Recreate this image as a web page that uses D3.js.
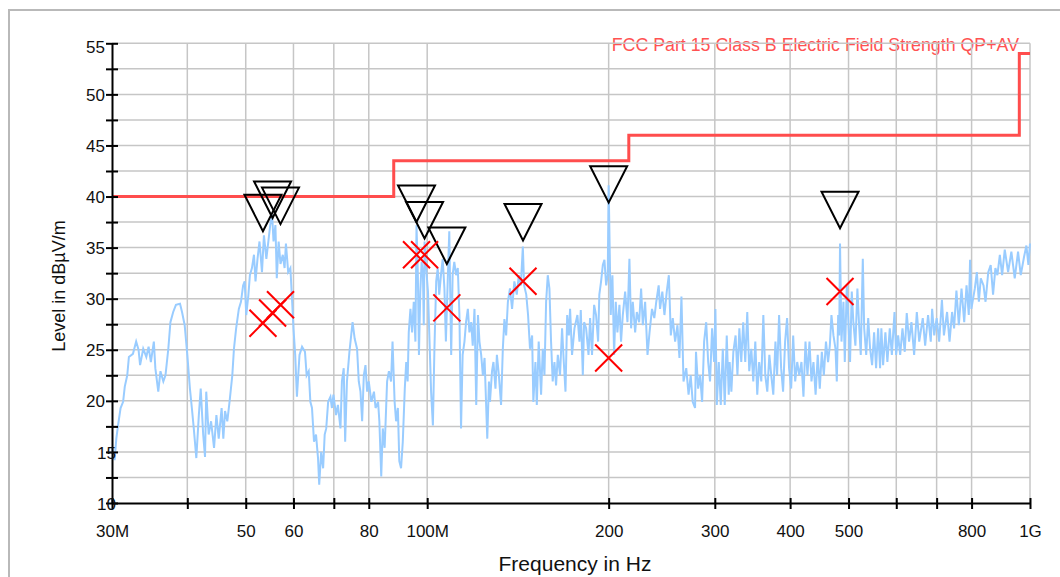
<!DOCTYPE html>
<html>
<head>
<meta charset="utf-8">
<script src="https://cdn.jsdelivr.net/npm/d3@7"></script>
<style>
  body { margin: 0; background: #fff; }
  svg { display: block; }
  text { font-family: "Liberation Sans", Arial, sans-serif; }
</style>
</head>
<body>
<svg></svg>
<script>
// measured trace (peak detector), frequency in MHz / level in dBuV/m
var traceMHz = [
  30.0, 30.3, 30.5, 30.7, 31.0, 31.3, 31.5, 31.8, 32.0, 32.5, 32.9, 33.2, 33.4, 33.8, 34.2, 34.5,
  34.8, 35.2, 35.4, 35.8, 36.1, 36.5, 36.8, 37.2, 37.5, 37.9, 38.3, 38.9, 39.2, 39.6, 40.0, 40.4,
  40.7, 41.0, 41.4, 41.8, 42.1, 42.5, 42.8, 43.0, 43.4, 43.8, 44.3, 44.7, 45.1, 45.6, 45.9, 46.2,
  46.6, 47.0, 47.5, 47.8, 48.2, 48.7, 49.1, 49.5, 49.8, 50.1, 50.5, 50.8, 51.2, 51.6, 51.9, 52.3,
  52.7, 53.2, 53.6, 54.1, 54.9, 55.3, 55.6, 56.0, 56.3, 56.7, 57.1, 57.6, 58.0, 58.3, 58.8, 59.3,
  59.7, 60.0, 60.4, 60.8, 61.4, 62.0, 62.7, 63.1, 63.6, 64.0, 64.4, 64.9, 65.4, 65.9, 66.2, 66.7,
  67.2, 67.6, 68.0, 68.5, 69.1, 69.5, 69.9, 70.6, 71.1, 71.8, 72.2, 72.7, 73.1, 73.6, 74.3, 74.8,
  75.2, 75.8, 76.5, 77.0, 77.5, 78.0, 78.5, 79.0, 79.5, 80.0, 80.8, 81.6, 82.1, 82.9, 83.3, 83.9,
  84.4, 85.0, 85.8, 86.4, 87.1, 87.6, 88.3, 88.8, 89.4, 89.9, 90.5, 91.1, 91.8, 92.3, 92.8, 93.2,
  93.8, 94.4, 95.0, 95.6, 96.0, 96.5, 96.9, 97.4, 97.9, 98.4, 98.7, 99.0, 99.6, 100.3, 100.9, 101.5,
  102.2, 102.8, 103.5, 104.1, 104.7, 105.4, 106.1, 106.8, 107.4, 108.1, 108.8, 109.6, 110.2, 110.9, 111.7, 112.4,
  113.1, 113.8, 114.5, 115.3, 116.0, 116.8, 117.5, 118.3, 119.0, 119.8, 120.6, 121.4, 122.1, 122.9, 123.7, 124.5,
  125.3, 125.8, 126.6, 127.1, 128.1, 128.8, 129.8, 130.5, 131.5, 132.6, 133.5, 134.3, 135.2, 136.1, 137.2, 138.3,
  139.5, 140.8, 141.9, 143.0, 144.1, 144.8, 146.0, 147.0, 148.1, 149.3, 150.0, 151.2, 152.0, 153.1, 154.5, 155.5,
  156.5, 157.5, 158.5, 159.5, 160.5, 161.5, 162.6, 163.6, 164.7, 166.1, 167.4, 168.5, 169.6, 170.7, 171.8, 172.6,
  173.9, 175.5, 177.5, 178.9, 179.8, 181.2, 182.1, 183.5, 185.2, 186.3, 187.7, 189.2, 190.6, 192.1, 193.0, 194.3,
  195.6, 196.8, 198.1, 199.3, 200.0, 201.6, 202.9, 204.2, 205.5, 206.8, 208.4, 209.7, 211.1, 213.0, 214.9, 216.5,
  217.9, 219.3, 221.3, 222.7, 224.7, 226.4, 227.9, 229.9, 232.0, 233.8, 236.0, 238.1, 239.9, 242.1, 243.4, 245.5,
  247.5, 249.7, 251.7, 253.6, 255.5, 257.8, 260.1, 262.1, 264.1, 266.2, 269.0, 271.4, 273.6, 275.7, 278.2, 279.2,
  281.5, 283.6, 285.8, 288.0, 290.3, 292.5, 294.6, 296.9, 299.2, 300.7, 302.3, 304.6, 306.9, 309.3, 311.6, 314.0,
  316.4, 317.5, 319.6, 322.0, 324.8, 327.1, 329.5, 331.9, 334.4, 337.0, 339.6, 342.2, 344.9, 347.5, 350.2, 352.8,
  355.4, 358.3, 361.1, 363.8, 366.6, 369.5, 372.2, 375.1, 378.2, 380.6, 383.5, 386.5, 389.4, 392.4, 395.4, 398.4,
  401.6, 404.7, 407.8, 411.0, 414.2, 417.7, 420.9, 424.2, 427.4, 430.7, 434.0, 437.3, 440.9, 444.5, 448.0, 451.5,
  455.0, 458.7, 462.4, 465.5, 468.4, 472.0, 475.7, 478.1, 480.6, 482.5, 484.0, 486.7, 490.4, 492.9, 496.7, 499.8,
  502.9, 506.2, 509.3, 513.3, 517.2, 520.6, 523.9, 528.0, 530.8, 534.9, 539.0, 542.9, 547.1, 551.3, 555.5, 559.8,
  564.0, 566.8, 570.6, 575.6, 580.0, 585.3, 590.0, 596.0, 599.7, 604.3, 609.0, 614.4, 619.8, 624.5, 630.1, 635.8,
  642.4, 649.0, 655.0, 663.9, 670.0, 677.5, 684.5, 688.1, 693.6, 700.1, 706.8, 714.3, 719.8, 728.5, 735.4, 742.6,
  748.3, 755.0, 762.0, 769.8, 777.8, 784.7, 791.5, 795.4, 799.4, 810.0, 816.3, 822.6, 828.6, 837.3, 843.8, 852.6,
  860.6, 868.4, 876.2, 882.9, 891.2, 899.0, 908.1, 919.8, 931.3, 943.3, 955.4, 965.3, 977.6, 986.3, 993.9, 1000
];
var traceDb = [
  15.5, 14.2, 16.3, 17.6, 19.3, 19.9, 21.4, 22.5, 24.3, 24.6, 25.8, 25.0, 23.5, 25.1, 24.3, 25.3,
  23.8, 25.8, 23.2, 20.9, 22.9, 21.9, 22.5, 25.1, 27.7, 28.7, 29.4, 29.5, 28.7, 27.4, 24.5, 21.2,
  19.3, 17.3, 14.4, 18.6, 21.2, 16.7, 14.5, 20.9, 16.7, 18.0, 15.4, 18.6, 16.3, 19.3, 16.3, 19.0,
  18.0, 19.9, 22.5, 25.1, 27.1, 29.0, 29.7, 31.3, 31.7, 28.4, 30.3, 32.3, 33.0, 34.3, 31.7, 33.9,
  35.6, 32.6, 36.2, 33.9, 37.2, 38.2, 35.6, 37.2, 32.0, 35.6, 33.4, 34.3, 33.0, 35.4, 32.6, 33.0,
  29.7, 27.1, 24.5, 20.4, 24.5, 25.3, 24.8, 22.5, 22.9, 19.9, 19.3, 16.0, 16.7, 14.4, 11.8, 15.0,
  13.4, 16.7, 17.3, 19.9, 20.4, 19.3, 20.6, 18.6, 19.6, 17.3, 21.9, 23.2, 16.0, 21.9, 24.8, 26.4,
  27.7, 26.1, 25.1, 21.9, 20.9, 18.0, 22.5, 23.5, 20.9, 21.9, 19.9, 20.9, 19.3, 19.9, 18.0, 12.6,
  17.3, 15.4, 21.9, 22.9, 21.9, 25.8, 19.9, 18.0, 19.3, 14.1, 13.4, 16.0, 21.2, 23.8, 21.9, 26.7,
  29.0, 26.7, 29.7, 25.8, 37.2, 32.3, 24.5, 30.7, 33.6, 32.3, 27.4, 35.6, 33.0, 30.7, 25.8, 20.9,
  17.6, 25.1, 31.7, 33.0, 30.4, 32.3, 33.9, 31.0, 25.8, 31.3, 36.6, 24.5, 32.3, 33.6, 32.3, 33.0,
  28.4, 17.3, 24.5, 25.8, 27.7, 29.0, 26.7, 27.7, 25.4, 29.0, 19.6, 28.4, 25.8, 24.5, 22.5, 24.2,
  19.3, 16.3, 21.9, 19.9, 22.9, 23.8, 21.2, 24.5, 22.5, 19.6, 25.1, 28.0, 26.4, 29.7, 31.0, 29.0,
  31.7, 30.4, 32.3, 31.3, 35.1, 31.3, 30.4, 28.4, 25.1, 26.4, 19.9, 23.8, 19.6, 25.8, 20.6, 25.1,
  22.5, 29.7, 32.3, 31.0, 25.8, 21.9, 23.8, 21.5, 24.5, 22.5, 27.1, 23.8, 20.9, 28.4, 26.4, 29.0,
  24.5, 27.1, 28.4, 25.8, 28.9, 22.5, 27.7, 27.1, 24.5, 28.1, 24.5, 29.4, 28.4, 25.8, 30.4, 31.7,
  33.3, 33.8, 31.3, 32.3, 41.1, 28.4, 32.3, 24.5, 29.7, 26.7, 29.4, 25.8, 28.4, 30.7, 27.7, 33.9,
  27.1, 29.7, 26.7, 28.7, 27.7, 31.0, 27.4, 29.7, 24.5, 26.7, 29.0, 28.1, 29.7, 31.3, 29.0, 30.7,
  28.4, 30.7, 32.3, 26.4, 28.1, 25.8, 27.4, 24.2, 30.2, 21.9, 23.2, 20.6, 22.5, 19.9, 19.3, 24.8,
  21.2, 22.5, 19.9, 25.8, 27.7, 23.8, 21.9, 27.1, 23.8, 29.0, 19.6, 23.8, 19.6, 25.1, 19.6, 26.4,
  20.6, 23.8, 20.9, 24.8, 26.4, 22.5, 27.1, 23.8, 27.7, 23.8, 28.7, 22.9, 25.1, 21.9, 25.8, 20.6,
  23.8, 21.9, 28.4, 22.5, 20.9, 24.5, 22.5, 20.6, 25.8, 22.5, 28.4, 23.2, 20.9, 25.8, 28.1, 23.2,
  21.2, 26.4, 21.9, 23.8, 22.5, 23.8, 20.4, 25.8, 22.5, 25.8, 21.9, 23.8, 20.6, 24.5, 21.2, 24.8,
  22.5, 25.8, 23.8, 25.4, 28.4, 26.4, 25.1, 21.9, 28.4, 26.4, 35.4, 25.8, 29.7, 23.8, 31.3, 27.7,
  23.8, 30.7, 27.7, 25.4, 31.0, 27.4, 24.5, 33.9, 27.1, 24.5, 28.1, 25.1, 23.5, 26.7, 23.2, 27.1,
  23.2, 27.1, 23.5, 26.7, 23.8, 27.1, 24.5, 28.7, 24.5, 26.4, 24.5, 27.1, 24.8, 28.6, 25.8, 27.7,
  24.5, 28.7, 25.8, 28.1, 25.4, 28.4, 25.8, 29.0, 26.4, 28.1, 25.8, 29.9, 26.4, 28.7, 25.8, 28.7,
  27.1, 30.8, 27.4, 31.0, 27.7, 31.3, 28.4, 33.8, 29.0, 31.0, 32.6, 29.7, 32.0, 31.3, 29.7, 32.6,
  33.3, 30.4, 33.0, 32.3, 34.3, 32.3, 34.8, 32.6, 34.6, 32.0, 34.6, 32.3, 34.1, 35.2, 33.3, 35.4
];

// FCC Part 15 Class B limit (steps)
var limitMHz = [30, 88, 88, 216, 216, 960, 960, 1000];
var limitDb = [40, 40, 43.5, 43.5, 46, 46, 54, 54];

// final measurement: quasi-peak (triangles) and average (crosses)
var qpMHz = [53.4, 55.4, 57.1, 96.0, 99.0, 107.8, 144.2, 200.0, 484.0];
var qpDb = [36.6, 37.9, 37.3, 37.5, 35.9, 33.4, 35.7, 39.4, 36.9];
var avMHz = [53.4, 55.4, 57.1, 96.0, 99.0, 107.8, 144.2, 200.0, 484.0];
var avDb = [27.6, 28.6, 29.4, 34.3, 34.3, 29.1, 31.7, 24.2, 30.7];

var xTickValues = [30, 40, 50, 60, 70, 80, 100, 200, 300, 400, 500, 600, 700, 800, 1000];
var xTickText = ["30M", "", "50", "60", "", "80", "100M", "200", "300", "400", "500", "", "", "800", "1G"];
var yTickValues = [10, 12.5, 15, 17.5, 20, 22.5, 25, 27.5, 30, 32.5, 35, 37.5, 40, 42.5, 45, 47.5, 50, 52.5, 55];

var W = 1060, H = 577;
var plotLeft = 112, plotRight = 1030, plotTop = 43.3, plotBottom = 503;

var svg = d3.select("svg").attr("width", W).attr("height", H);

var x = d3.scaleLog().domain([30, 1000]).range([plotLeft, plotRight]);
var y = d3.scaleLinear().domain([10, 55]).range([plotBottom, plotTop]);

// outer frame
svg.append("rect")
    .attr("x", 9).attr("y", 10)
    .attr("width", 1100).attr("height", 600)
    .attr("fill", "none")
    .attr("stroke", "#b9b9b9")
    .attr("stroke-width", 2);

// limit name
svg.append("text")
    .attr("x", 1019).attr("y", 51)
    .attr("text-anchor", "end")
    .attr("font-size", "17.8px")
    .attr("fill", "#ff5252")
    .text("FCC Part 15 Class B Electric Field Strength QP+AV");

// grid
var grid = svg.append("g")
    .attr("stroke", "#c6c6c6")
    .attr("stroke-width", 1.5);

grid.selectAll("line.v")
    .data(xTickValues.slice(1))
    .enter()
    .append("line")
    .attr("x1", function(d) { return x(d); })
    .attr("x2", function(d) { return x(d); })
    .attr("y1", y(10))
    .attr("y2", y(55));

grid.selectAll("line.h")
    .data(yTickValues.slice(1))
    .enter()
    .append("line")
    .attr("x1", x(30))
    .attr("x2", x(1000))
    .attr("y1", function(d) { return y(d); })
    .attr("y2", function(d) { return y(d); });

// trace
var traceLine = d3.line()
    .x(function(d, i) { return x(traceMHz[i]); })
    .y(function(d) { return y(d); });

svg.append("path")
    .datum(traceDb)
    .attr("d", traceLine)
    .attr("fill", "none")
    .attr("stroke", "#99ccff")
    .attr("stroke-width", 2)
    .attr("stroke-linejoin", "miter");

// limit
var limitLine = d3.line()
    .x(function(d, i) { return x(limitMHz[i]); })
    .y(function(d) { return y(d); });

svg.append("path")
    .datum(limitDb)
    .attr("d", limitLine)
    .attr("fill", "none")
    .attr("stroke", "#ff4d4d")
    .attr("stroke-width", 3);

// QP markers
svg.append("g").selectAll("path")
    .data(qpDb)
    .enter()
    .append("path")
    .attr("d", function(d, i) {
        var px = x(qpMHz[i]), py = y(d);
        return "M" + (px - 18.5) + "," + (py - 36.5) +
               "L" + (px + 18.5) + "," + (py - 36.5) +
               "L" + px + "," + py + "Z";
    })
    .attr("fill", "none")
    .attr("stroke", "#000")
    .attr("stroke-width", 2);

// AV markers
var cross = svg.append("g")
    .attr("stroke", "#ff0000")
    .attr("stroke-width", 2);

cross.selectAll("path")
    .data(avDb)
    .enter()
    .append("path")
    .attr("d", function(d, i) {
        var px = x(avMHz[i]), py = y(d), s = 13.5;
        return "M" + (px - s) + "," + (py - s) + "L" + (px + s) + "," + (py + s) +
               "M" + (px - s) + "," + (py + s) + "L" + (px + s) + "," + (py - s);
    });

// axes
var xAxis = d3.axisBottom(x)
    .tickValues(xTickValues)
    .tickFormat(function(d, i) { return xTickText[i]; })
    .tickSizeOuter(0);

var gx = svg.append("g")
    .attr("transform", "translate(0," + plotBottom + ")")
    .call(xAxis);

gx.select(".domain").attr("stroke", "#000").attr("stroke-width", 2);
gx.selectAll(".tick line").attr("y1", -5).attr("y2", 6).attr("stroke", "#000").attr("stroke-width", 2);
gx.selectAll(".tick text")
    .attr("y", 22)
    .attr("font-size", "17px")
    .attr("font-family", "Liberation Sans, Arial, sans-serif")
    .attr("fill", "#111");

var yAxis = d3.axisLeft(y)
    .tickValues(yTickValues)
    .tickFormat(function(d) { return d % 5 === 0 ? d : ""; })
    .tickSizeOuter(0);

var gy = svg.append("g")
    .attr("transform", "translate(" + plotLeft + ",0)")
    .call(yAxis);

gy.select(".domain").attr("stroke", "#000").attr("stroke-width", 2);
gy.selectAll(".tick line").attr("x1", -6).attr("x2", 6).attr("stroke", "#000").attr("stroke-width", 2);
gy.selectAll(".tick text")
    .attr("x", function(d) { return d <= 15 ? 4 : -7; })
    .attr("dy", function(d) { return d === 55 ? "0.55em" : "0.36em"; })
    .attr("font-size", "17px")
    .attr("font-family", "Liberation Sans, Arial, sans-serif")
    .attr("fill", "#111");

// axis titles
svg.append("text")
    .attr("x", 575).attr("y", 571)
    .attr("text-anchor", "middle")
    .attr("font-size", "21px")
    .attr("fill", "#111")
    .text("Frequency in Hz");

svg.append("text")
    .attr("transform", "translate(65,286) rotate(-90)")
    .attr("text-anchor", "middle")
    .attr("font-size", "18px")
    .attr("fill", "#111")
    .text("Level in dBµV/m");
</script>
</body>
</html>
